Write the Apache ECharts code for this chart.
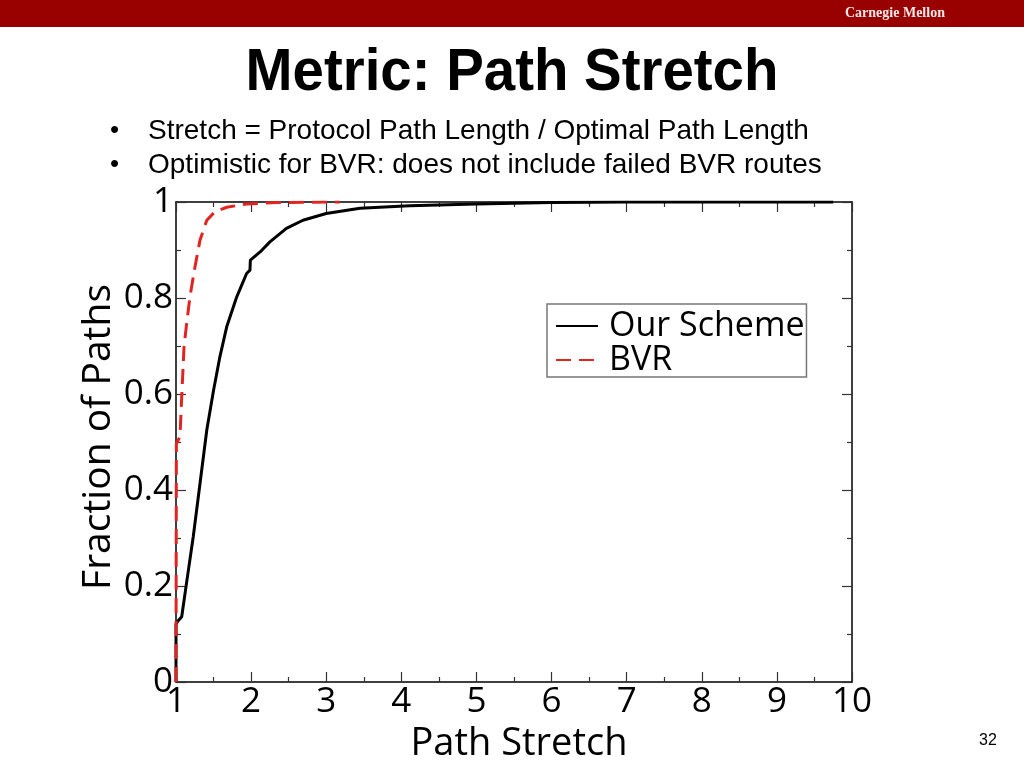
<!DOCTYPE html>
<html>
<head>
<meta charset="utf-8">
<style>
  html, body { margin: 0; padding: 0; background: #fff; }
  #main { width: 1024px; height: 768px; }
</style>
<script src="https://cdn.jsdelivr.net/npm/echarts@6/dist/echarts.min.js"></script>
</head>
<body>
<div id="main"></div>
<script>
// CDF data
var ourX = [1.0, 1.0, 1.02, 1.076, 1.14, 1.23, 1.32, 1.41, 1.50, 1.585, 1.675, 1.81, 1.94, 1.985, 1.99, 2.12, 2.25, 2.47, 2.69, 3.0, 3.45, 4.11, 5.0, 6.0, 7.0, 9.75]
var ourY = [0, 0.12, 0.126, 0.136, 0.206, 0.303, 0.414, 0.525, 0.608, 0.678, 0.740, 0.803, 0.851, 0.858, 0.879, 0.896, 0.917, 0.945, 0.962, 0.976, 0.987, 0.992, 0.996, 0.999, 1.0, 1.0]
var bvrX = [1.0, 1.005, 1.053, 1.076, 1.107, 1.142, 1.186, 1.253, 1.32, 1.41, 1.52, 1.675, 1.94, 2.34, 3.18]
var bvrY = [0, 0.497, 0.511, 0.594, 0.699, 0.747, 0.803, 0.865, 0.921, 0.962, 0.980, 0.989, 0.996, 0.999, 1.0]
var seriesNames = ['Our Scheme', 'BVR']
var xTicks = [1, 10, 1]   // min, max, interval
var yTicks = [0, 1, 0.2]
var bullets = ['Stretch = Protocol Path Length / Optimal Path Length', 'Optimistic for BVR: does not include failed BVR routes']

var pairs = function(xs, ys){
    var out = []
    for(var i=0;i<xs.length;i++){
        out.push([xs[i], ys[i]])
    }
    return out
}

var plotFont = '"Open Sans", sans-serif'
var slideFont = '"Liberation Sans", Arial, sans-serif'
var chart = echarts.init(document.getElementById('main'))

var axisCommon = function(pos, showLabel){
    return {
        type: 'value',
        position: pos,
        axisLine: {show: true, onZero: false, lineStyle: {color: '#000', width: 1.5}},
        axisTick: {show: true, inside: true, length: 10, lineStyle: {color: '#333', width: 1.2}},
        minorTick: {show: true, splitNumber: 2, length: 5, lineStyle: {color: '#333', width: 1.2}},
        splitLine: {show: false},
        axisLabel: {show: showLabel, color: '#000', fontFamily: plotFont, fontSize: 35, margin: 3}
    }
}

var xBottom = axisCommon('bottom', true)
xBottom.min = xTicks[0]; xBottom.max = xTicks[1]; xBottom.interval = xTicks[2]
xBottom.name = 'Path Stretch'
xBottom.nameLocation = 'middle'
xBottom.nameGap = 34
xBottom.nameTextStyle = {color: '#000', fontFamily: plotFont, fontSize: 38, padding: [0, 0, 0, 10]}
var xTop = axisCommon('top', false)
xTop.min = xTicks[0]; xTop.max = xTicks[1]; xTop.interval = xTicks[2]

var yLeft = axisCommon('left', true)
yLeft.min = yTicks[0]; yLeft.max = yTicks[1]; yLeft.interval = yTicks[2]
yLeft.name = 'Fraction of Paths'
yLeft.nameLocation = 'middle'
yLeft.nameMoveOverlap = false
yLeft.nameGap = 58
yLeft.nameTextStyle = {color: '#000', fontFamily: plotFont, fontSize: 39, padding: [0, 0, 0, 10]}
var yRight = axisCommon('right', false)
yRight.min = yTicks[0]; yRight.max = yTicks[1]; yRight.interval = yTicks[2]

var option = {
    backgroundColor: '#fff',
    animation: false,
    grid: {left: 176, right: 172, top: 202, bottom: 86, containLabel: false},
    xAxis: [xBottom, xTop],
    yAxis: [yLeft, yRight],
    legend: {
        data: seriesNames,
        orient: 'vertical',
        left: 547,
        top: 304,
        backgroundColor: '#fff',
        borderColor: '#777',
        borderWidth: 1.5,
        borderRadius: 0,
        padding: [5, 2, 0, 8],
        itemGap: 0,
        itemWidth: 42,
        itemHeight: 14,
        itemStyle: {opacity: 0},
        textStyle: {color: '#000', fontFamily: plotFont, fontSize: 34, lineHeight: 34, padding: [0, 0, 0, 6]}
    },
    graphic: [
        {type: 'rect', left: 0, top: 0, shape: {width: 1024, height: 27}, style: {fill: '#990000'}},
        {type: 'text', left: 845, top: 6, style: {text: 'Carnegie Mellon', fill: '#f3e9e9', font: 'bold 14px "Liberation Serif", serif'}},
        {type: 'text', x: 512, y: 73, scaleX: 0.94, style: {text: 'Metric: Path Stretch', fill: '#000', font: 'bold 60px ' + slideFont, align: 'center', verticalAlign: 'middle'}},
        {type: 'text', x: 110, y: 131, style: {text: '\u2022', fill: '#000', font: '26px ' + slideFont, verticalAlign: 'middle'}},
        {type: 'text', x: 148, y: 131, style: {text: bullets[0], fill: '#000', font: '28px ' + slideFont, verticalAlign: 'middle'}},
        {type: 'text', x: 110, y: 165, style: {text: '\u2022', fill: '#000', font: '26px ' + slideFont, verticalAlign: 'middle'}},
        {type: 'text', x: 148, y: 165, style: {text: bullets[1], fill: '#000', font: '28px ' + slideFont, verticalAlign: 'middle'}},
        {type: 'text', x: 979, y: 741, style: {text: '32', fill: '#000', font: '16px ' + slideFont, verticalAlign: 'middle'}}
    ],
    series: [
        {
            name: seriesNames[0],
            type: 'line',
            showSymbol: false,
            symbol: 'none',
            smooth: false,
            color: '#000',
            lineStyle: {color: '#000', width: 3},
            data: pairs(ourX, ourY)
        },
        {
            name: seriesNames[1],
            type: 'line',
            showSymbol: false,
            symbol: 'none',
            smooth: false,
            color: '#e3231f',
            lineStyle: {color: '#e3231f', width: 3, type: [15, 8]},
            data: pairs(bvrX, bvrY)
        }
    ]
}
chart.setOption(option)
</script>
</body>
</html>
